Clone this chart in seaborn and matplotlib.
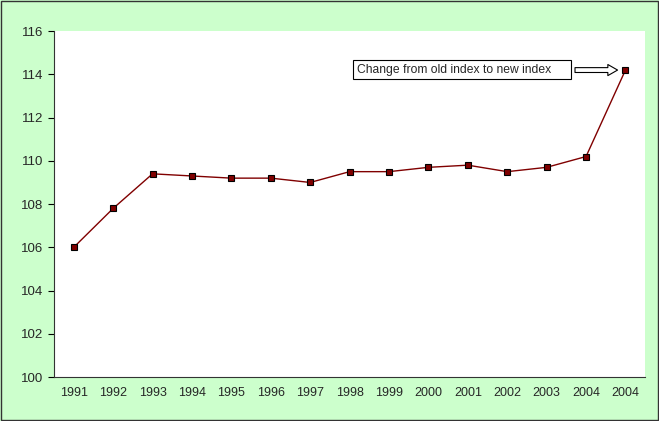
import matplotlib
matplotlib.use("Agg")
import matplotlib.pyplot as plt
import matplotlib.patches as patches
import seaborn as sns
import pandas as pd

# Dados do índice
anos = ['1991', '1992', '1993', '1994', '1995', '1996', '1997', '1998',
        '1999', '2000', '2001', '2002', '2003', '2004', '2004']
indice = [106.0, 107.8, 109.4, 109.3, 109.2, 109.2, 109.0, 109.5,
          109.5, 109.7, 109.8, 109.5, 109.7, 110.2, 114.2]
nota = 'Change from old index to new index'

df = pd.DataFrame({'pos': range(len(anos)), 'indice': indice})

sns.set_style('white')
plt.rcParams['font.family'] = ['Liberation Sans', 'DejaVu Sans']

fig = plt.figure(figsize=(6.59, 4.21), dpi=100, facecolor='#CCFFCC')
ax = fig.add_axes([0.082, 0.1045, 0.897, 0.8215])
ax.set_facecolor('white')

sns.lineplot(data=df, x='pos', y='indice', ax=ax, color='#800000', lw=1,
             marker='s', markersize=5, markerfacecolor='#800000',
             markeredgecolor='black', markeredgewidth=0.8)

ax.set_xlim(-0.5, len(anos) - 0.5)
ax.set_ylim(100, 116)
ax.set_yticks(range(100, 117, 2))
ax.set_xticks(range(len(anos)))
ax.set_xticklabels(anos)
ax.tick_params(axis='x', length=0, labelsize=9, pad=7)
ax.tick_params(axis='y', length=4, width=0.8, color='black', labelsize=9.5,
               left=True, direction='out', pad=4)
ax.set_xlabel('')
ax.set_ylabel('')
for s in ['top', 'right']:
    ax.spines[s].set_visible(False)
for s in ['left', 'bottom']:
    ax.spines[s].set_color('#333333')
    ax.spines[s].set_linewidth(0.8)

# Caixa de texto
ax.add_patch(patches.Rectangle((7.09, 113.78), 5.53, 0.88, fc='white', ec='black', lw=0.8, zorder=3))
ax.text(7.19, 114.22, nota, ha='left', va='center', fontsize=8.7, zorder=4)

# Seta vazada
ax.annotate('', xy=(13.8, 114.2), xytext=(12.72, 114.2),
            arrowprops=dict(arrowstyle='simple,head_length=0.7,head_width=0.8,tail_width=0.35',
                            fc='white', ec='black', lw=0.8, shrinkA=0, shrinkB=0,
                            mutation_scale=10))

# Borda da figura
fig.patches.append(patches.Rectangle((0.002, 0.002), 0.996, 0.996, transform=fig.transFigure,
                                     fill=False, ec='#333333', lw=1))

fig.savefig('out.png', dpi=100, facecolor=fig.get_facecolor())
